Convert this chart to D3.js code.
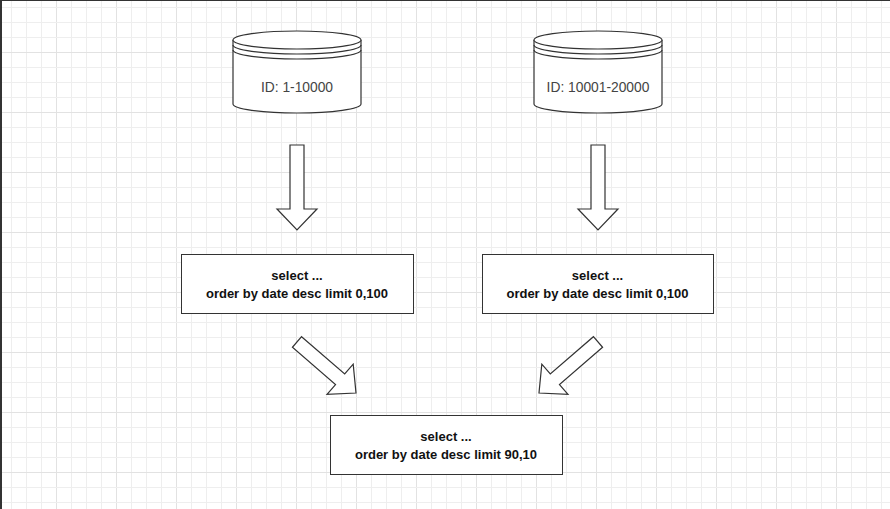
<!DOCTYPE html>
<html><head><meta charset="utf-8">
<script src="https://cdn.jsdelivr.net/npm/d3@7"></script>
<style>body{margin:0;background:#fff}svg{display:block}</style>
</head><body><div id="container"></div>
<script>
const W = 890, H = 509;
const dbLabels = ["ID: 1-10000", "ID: 10001-20000"];
const queryLines = [["select ...", "order by date desc limit 0,100"], ["select ...", "order by date desc limit 0,100"]];
const mergeLines = ["select ...", "order by date desc limit 90,10"];

const svg = d3.select("#container").append("svg").attr("width", W).attr("height", H);
svg.append("rect").attr("width", W).attr("height", H).attr("fill", "#fff");

// grid
const g = svg.append("g");
d3.range(11, W, 15).forEach((x, i) => g.append("line").attr("x1", x + .5).attr("x2", x + .5).attr("y1", 0).attr("y2", H)
  .attr("stroke", (i % 4 === 3) ? "#e2e2e2" : "#eeeeee"));
d3.range(7, H, 15).forEach((y, i) => g.append("line").attr("y1", y + .5).attr("y2", y + .5).attr("x1", 0).attr("x2", W)
  .attr("stroke", (i % 4 === 3) ? "#e2e2e2" : "#eeeeee"));
svg.append("rect").attr("x", 0).attr("y", 0).attr("width", 2).attr("height", H).attr("fill", "#333");
svg.append("rect").attr("x", 0).attr("y", 0).attr("width", W).attr("height", 1).attr("fill", "#333");

// column centre scale
const col = d3.scaleLinear().domain([0, 1]).range([297, 598]);
const stroke = "#333";

// cylinders
dbLabels.forEach((lab, i) => {
  const cx = col(i), rx = 64, ry = 9, top = 40, bot = 104;
  const c = svg.append("g").attr("fill", "#fff").attr("stroke", stroke).attr("stroke-width", 1.2);
  c.append("path").attr("d", `M${cx-rx},${top} L${cx-rx},${bot} A${rx},${ry} 0 0 0 ${cx+rx},${bot} L${cx+rx},${top}`);
  c.append("ellipse").attr("cx", cx).attr("cy", top).attr("rx", rx).attr("ry", ry);
  [5, 10].forEach(o => c.append("path").attr("fill", "none")
    .attr("d", `M${cx-rx},${top+o} A${rx},${ry} 0 0 0 ${cx+rx},${top+o}`));
  svg.append("text").attr("x", cx).attr("y", 92).attr("text-anchor", "middle")
    .attr("font-family", "Liberation Sans, Arial, sans-serif").attr("font-size", 13.8).attr("fill", "#444").text(lab);
});

// block arrow path from tail to tip
function arrow(x0, y0, x1, y1) {
  const L = Math.hypot(x1 - x0, y1 - y0), sw = 7, hw = 20, hl = 21;
  const pts = [[0, -sw], [L - hl, -sw], [L - hl, -hw], [L, 0], [L - hl, hw], [L - hl, sw], [0, sw]];
  const a = Math.atan2(y1 - y0, x1 - x0), ca = Math.cos(a), sa = Math.sin(a);
  return "M" + pts.map(([u, v]) => [x0 + u * ca - v * sa, y0 + u * sa + v * ca].join(",")).join("L") + "Z";
}
const arrows = [
  [col(0), 145, col(0), 230], [col(1), 145, col(1), 230],
  [297, 342, 356, 393], [598, 342, 539, 393]
];
svg.selectAll("path.arr").data(arrows).enter().append("path").attr("class", "arr")
  .attr("d", d => arrow(...d)).attr("fill", "#fff").attr("stroke", stroke).attr("stroke-width", 1.2);

// boxes
function box(x, y, w, h, lines) {
  svg.append("rect").attr("x", x + .5).attr("y", y + .5).attr("width", w).attr("height", h)
    .attr("fill", "#fff").attr("stroke", stroke).attr("stroke-width", 1);
  lines.forEach((t, k) => svg.append("text").attr("x", x + w / 2).attr("y", y + 26 + k * 18)
    .attr("text-anchor", "middle").attr("font-family", "Liberation Sans, Arial, sans-serif")
    .attr("font-weight", "bold").attr("font-size", 13).attr("fill", "#111").text(t));
}
box(181, 254, 232, 59, queryLines[0]);
box(482, 254, 231, 59, queryLines[1]);
box(330, 415, 232, 59, mergeLines);
</script></body></html>
